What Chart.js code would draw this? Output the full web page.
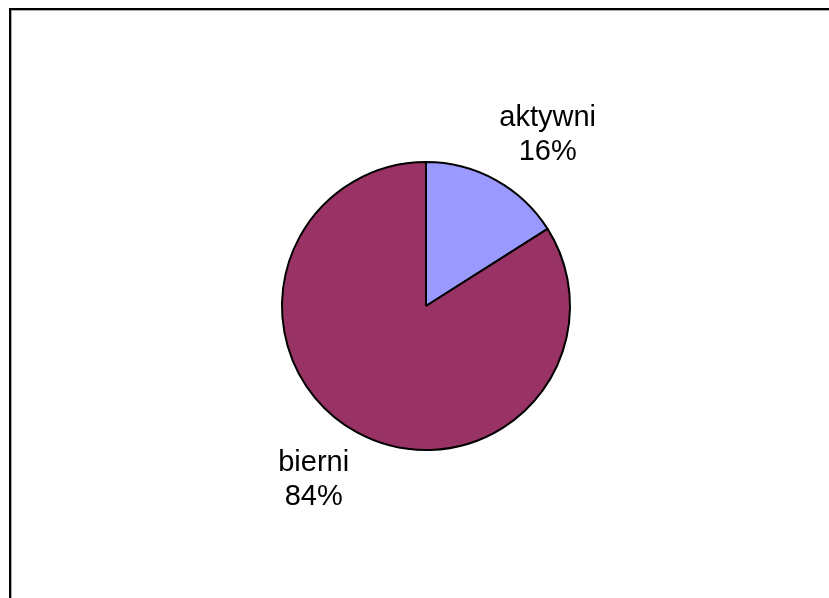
<!DOCTYPE html>
<html>
<head>
<meta charset="utf-8">
<script src="https://cdn.jsdelivr.net/npm/chart.js@4/dist/chart.umd.min.js"></script>
<style>
  html, body { margin: 0; padding: 0; background: #fff; overflow: hidden; }
  #frame { position: absolute; left: 9px; top: 8px; width: 900px; height: 700px;
           border-left: 2px solid #000; border-top: 2px solid #000; box-shadow: 1px 1px 0 #aaa inset; }
  #wrap { position: absolute; left: 0; top: 0; width: 829px; height: 598px; }
</style>
</head>
<body>
<div id="frame"></div>
<div id="wrap"><canvas id="c" width="829" height="598"></canvas></div>
<script>
const categories = ["aktywni", "bierni"];
const values = [16, 84];
const percentLabels = ["16%", "84%"];
const colors = ["#9999FF", "#993366"];

const labelPlugin = {
  id: "outsideLabels",
  afterDatasetsDraw(chart, args, opts) {
    const ctx = chart.ctx;
    const meta = chart.getDatasetMeta(0);
    ctx.save();
    ctx.font = "29px 'Liberation Sans', Arial, sans-serif";
    ctx.fillStyle = "#000";
    ctx.textAlign = "center";
    ctx.textBaseline = "middle";
    meta.data.forEach((arc, i) => {
      const r = arc.outerRadius;
      const off = opts.offsets[i];
      const x = arc.x + off[0] * r;
      const y = arc.y + off[1] * r;
      ctx.fillText(categories[i], x, y - 17);
      ctx.fillText(percentLabels[i], x, y + 17);
    });
    ctx.restore();
  }
};

new Chart(document.getElementById("c"), {
  type: "pie",
  data: {
    labels: categories,
    datasets: [{
      data: values,
      backgroundColor: colors,
      borderColor: "#000",
      borderWidth: 2
    }]
  },
  options: {
    responsive: false,
    animation: false,
    events: [],
    layout: { padding: { top: 161, bottom: 147, left: 281, right: 258 } },
    plugins: {
      legend: { display: false },
      tooltip: { enabled: false },
      outsideLabels: { offsets: [[0.845, -1.19], [-0.78, 1.21]] }
    }
  },
  plugins: [labelPlugin]
});
</script>
</body>
</html>
